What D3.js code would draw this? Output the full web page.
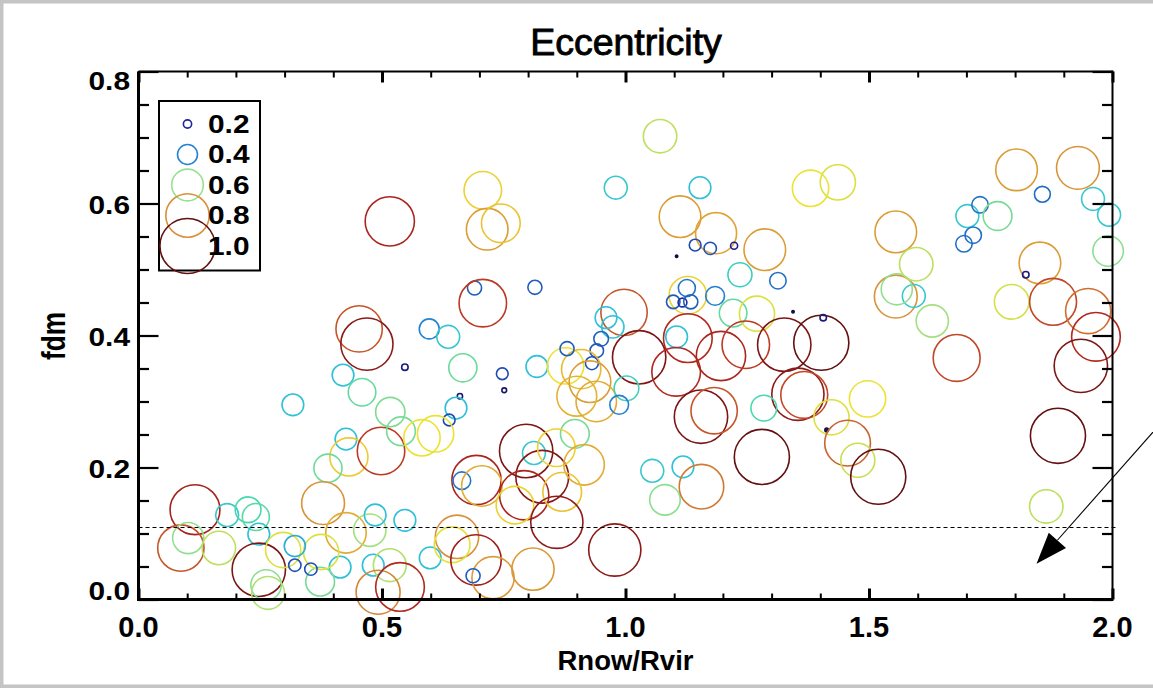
<!DOCTYPE html>
<html><head><meta charset="utf-8">
<script src="https://cdn.jsdelivr.net/npm/d3@7"></script>
<style>body{margin:0;background:#fff}svg{display:block}</style>
</head><body>
<svg id="c" width="1153" height="688"></svg>
<script>
// ---------- data ----------
const xTickValues = [0, 0.5, 1.0, 1.5, 2.0];
const xTickLabels = ["0.0", "0.5", "1.0", "1.5", "2.0"];
const yTickValues = [0, 0.2, 0.4, 0.6, 0.8];
const yTickLabels = ["0.0", "0.2", "0.4", "0.6", "0.8"];
const legendValues = [0.2, 0.4, 0.6, 0.8, 1.0];
const legendLabels = ["0.2", "0.4", "0.6", "0.8", "1.0"];
const titleText = "Eccentricity";
const xTitle = "Rnow/Rvir";
const yTitle = "fdm";
const thresholdLevel = 0.11;
const arrowTail = [2.098, 0.266];
const arrowTip = [1.844, 0.054];

const rnow = [0.116,0.087,0.102,0.165,0.182,0.225,0.241,0.247,0.247,0.262,0.266,0.297,0.317,0.420,0.459,0.517,0.426,0.432,0.389,0.498,
0.379,0.426,0.475,0.486,0.547,0.599,0.482,0.516,0.414,0.373,0.375,0.492,0.537,0.321,0.321,0.354,0.453,0.469,0.516,0.597,
0.636,0.666,0.707,0.716,0.744,0.980,1.071,1.153,1.112,1.186,1.143,1.174,1.223,1.105,1.286,1.235,1.313,0.690,0.707,0.814,
0.997,0.960,0.974,0.950,0.941,0.931,1.128,1.126,1.098,1.117,1.134,1.184,1.221,1.270,1.105,1.028,1.128,1.104,1.196,1.247,
1.326,1.402,1.406,1.344,1.354,1.367,1.423,1.497,1.413,1.456,1.477,1.519,1.680,1.555,1.630,1.592,1.557,1.793,1.851,1.822,
1.878,1.950,1.966,1.935,1.888,1.864,1.380,1.436,1.555,1.597,1.702,1.728,1.764,1.714,1.695,1.803,1.856,1.929,1.960,1.993,
1.991,0.547,0.747,0.751,0.660,0.652,0.638,0.539,0.582,0.610,0.818,0.694,0.664,0.705,0.796,0.812,0.829,0.792,0.773,0.896,
0.858,0.915,0.870,0.859,0.978,1.055,1.118,1.081,1.156,1.280,1.284,1.155,1.182,0.877,0.909,0.927,0.900,0.940,1.002,0.987,
0.880,0.654,0.644,0.693,0.728,0.687,0.810];
const fdm = [0.136,0.078,0.093,0.078,0.128,0.136,0.125,0.099,0.045,0.022,0.010,0.075,0.295,0.340,0.314,0.284,0.243,0.216,0.199,0.225,
0.146,0.101,0.105,0.128,0.120,0.063,0.052,0.052,0.049,0.027,0.072,0.011,0.019,0.081,0.052,0.046,0.410,0.387,0.573,0.410,
0.398,0.351,0.620,0.561,0.570,0.624,0.702,0.624,0.580,0.555,0.537,0.532,0.536,0.520,0.530,0.492,0.483,0.472,0.449,0.473,
0.435,0.427,0.413,0.395,0.377,0.358,0.461,0.472,0.451,0.450,0.451,0.460,0.434,0.433,0.398,0.367,0.396,0.345,0.369,0.386,
0.386,0.389,0.427,0.436,0.311,0.310,0.276,0.304,0.257,0.237,0.211,0.186,0.366,0.459,0.422,0.460,0.470,0.451,0.510,0.492,
0.451,0.437,0.398,0.354,0.248,0.141,0.623,0.632,0.557,0.508,0.581,0.598,0.581,0.552,0.539,0.651,0.614,0.654,0.607,0.583,
0.528,0.352,0.342,0.317,0.308,0.290,0.272,0.255,0.245,0.251,0.353,0.181,0.180,0.172,0.225,0.222,0.186,0.158,0.143,0.251,
0.230,0.204,0.163,0.117,0.075,0.195,0.201,0.151,0.171,0.216,0.290,0.277,0.286,0.354,0.349,0.330,0.308,0.300,0.320,0.295,
0.380,0.095,0.083,0.060,0.033,0.036,0.046];
const ecc = [0.91,0.85,0.59,0.63,0.45,0.50,0.52,0.43,0.97,0.58,0.62,0.66,0.43,0.43,0.53,0.56,0.43,0.71,0.54,0.87,
0.79,0.75,0.61,0.43,0.43,0.43,0.43,0.62,0.43,0.55,0.66,0.81,0.89,0.42,0.27,0.27,0.85,0.95,0.90,0.40,
0.45,0.54,0.70,0.77,0.72,0.45,0.63,0.43,0.77,0.76,0.26,0.27,0.18,0.10,0.77,0.47,0.34,0.30,0.87,0.30,
0.85,0.43,0.44,0.31,0.29,0.28,0.70,0.35,0.29,0.21,0.30,0.38,0.53,0.66,0.43,0.97,0.89,0.89,0.90,0.87,
0.97,1.00,0.17,0.10,0.95,0.86,0.66,0.68,0.12,0.84,0.64,1.00,0.86,0.79,0.61,0.45,0.59,0.65,0.77,0.17,
0.86,0.83,0.89,0.97,1.00,0.63,0.68,0.66,0.77,0.63,0.45,0.34,0.55,0.34,0.34,0.77,0.33,0.79,0.45,0.45,
0.58,0.17,0.26,0.14,0.15,0.43,0.26,0.55,0.68,0.68,0.43,0.90,0.36,0.75,0.97,0.45,0.96,0.90,0.70,0.55,
0.70,0.75,0.72,0.95,0.95,0.45,0.43,0.58,0.82,1.00,0.50,0.97,0.85,0.68,0.73,0.77,0.74,0.75,0.48,0.38,
0.30,0.80,0.67,0.92,0.78,0.30,0.78];

// ---------- setup ----------
const W = 1153, H = 688;
const svg = d3.select("#c");
const FONT = "'Liberation Sans', Arial, Helvetica, sans-serif";

svg.append("rect").attr("width", W).attr("height", H).attr("fill", "#fff");
// outer grey frame (left, top, bottom)
svg.append("rect").attr("x", 0).attr("y", 0).attr("width", W).attr("height", 3.5).attr("fill", "#c4c4c4");
svg.append("rect").attr("x", 0).attr("y", 0).attr("width", 3.5).attr("height", H).attr("fill", "#c4c4c4");
svg.append("rect").attr("x", 0).attr("y", H - 3.5).attr("width", W).attr("height", 3.5).attr("fill", "#c4c4c4");

const x = d3.scaleLinear().domain([0, 2]).range([138.5, 1112.5]);
const y = d3.scaleLinear().domain([0, 0.8]).range([599.5, 71.5]);

const rScale = d3.scaleLinear().domain([0, 1]).range([-1.74, 27.56]);
const radius = e => Math.max(0.9, rScale(e));
const color = d3.scaleLinear()
  .domain([0.10, 0.18, 0.27, 0.34, 0.40, 0.43, 0.50, 0.56, 0.60, 0.64, 0.68, 0.72, 0.77, 0.80, 0.84, 0.88, 0.95, 1.00])
  .range(["#101040", "#1c1c8c", "#1f50b5", "#2070c8", "#2585d2", "#30c0d8", "#48d8b0", "#80dc90", "#98e090",
          "#c8e050", "#ece232", "#eac232", "#dc9c34", "#d8903a", "#c9642e", "#b82a20", "#8c1a18", "#621010"])
  .clamp(true);

// ---------- data points ----------
const pts = rnow.map((v, i) => ({ x: v, y: fdm[i], e: ecc[i] }));
svg.append("g").selectAll("circle").data(pts).join("circle")
  .attr("cx", d => x(d.x)).attr("cy", d => y(d.y))
  .attr("r", d => radius(d.e))
  .attr("fill", d => d.e < 0.13 ? color(d.e) : "none")
  .attr("stroke", d => color(d.e))
  .attr("stroke-width", 1.6);

// ---------- threshold dashed line ----------
svg.append("line")
  .attr("x1", x(0)).attr("x2", x(2.012))
  .attr("y1", Math.round(y(thresholdLevel)) + 0.5).attr("y2", Math.round(y(thresholdLevel)) + 0.5)
  .attr("stroke", "#000").attr("stroke-width", 1).attr("stroke-dasharray", "4,3");

// ---------- axes (IDL style, inward ticks) ----------
const xMinor = d3.range(0, 2.0001, 0.1).filter(v => Math.abs(v * 2 - Math.round(v * 2)) > 1e-6);
const yMinor = d3.range(0, 0.8001, 0.05).filter(v => Math.abs(v * 5 - Math.round(v * 5)) > 1e-6);

function styleAxis(g, w) {
  g.select(".domain").remove();
  g.selectAll(".tick line").attr("stroke", "#000").attr("stroke-width", w);
  g.selectAll(".tick text").remove();
}
// bottom
svg.append("g").attr("transform", `translate(0,${y(0)})`)
  .call(d3.axisBottom(x).tickValues(xTickValues).tickSize(-11).tickFormat(""))
  .call(g => styleAxis(g, 3));
svg.append("g").attr("transform", `translate(0,${y(0)})`)
  .call(d3.axisBottom(x).tickValues(xMinor).tickSize(-6).tickFormat(""))
  .call(g => styleAxis(g, 2));
// top
svg.append("g").attr("transform", `translate(0,${y(0.8)})`)
  .call(d3.axisTop(x).tickValues(xTickValues).tickSize(-11).tickFormat(""))
  .call(g => styleAxis(g, 3));
svg.append("g").attr("transform", `translate(0,${y(0.8)})`)
  .call(d3.axisTop(x).tickValues(xMinor).tickSize(-6).tickFormat(""))
  .call(g => styleAxis(g, 2));
// left
svg.append("g").attr("transform", `translate(${x(0)},0)`)
  .call(d3.axisLeft(y).tickValues(yTickValues).tickSize(-20).tickFormat(""))
  .call(g => styleAxis(g, 2.2));
svg.append("g").attr("transform", `translate(${x(0)},0)`)
  .call(d3.axisLeft(y).tickValues(yMinor).tickSize(-10.5).tickFormat(""))
  .call(g => styleAxis(g, 2.2));
// right
svg.append("g").attr("transform", `translate(${x(2)},0)`)
  .call(d3.axisRight(y).tickValues(yTickValues).tickSize(-20).tickFormat(""))
  .call(g => styleAxis(g, 2.2));
svg.append("g").attr("transform", `translate(${x(2)},0)`)
  .call(d3.axisRight(y).tickValues(yMinor).tickSize(-10.5).tickFormat(""))
  .call(g => styleAxis(g, 2.2));

// frame lines
svg.append("line").attr("x1", x(0)).attr("x2", x(2)).attr("y1", y(0)).attr("y2", y(0)).attr("stroke", "#000").attr("stroke-width", 3);
svg.append("line").attr("x1", x(0)).attr("x2", x(0)).attr("y1", y(0) + 1.5).attr("y2", y(0.8)).attr("stroke", "#000").attr("stroke-width", 3);
svg.append("line").attr("x1", x(0)).attr("x2", x(2)).attr("y1", y(0.8)).attr("y2", y(0.8)).attr("stroke", "#000").attr("stroke-width", 2);
svg.append("line").attr("x1", x(2)).attr("x2", x(2)).attr("y1", y(0) + 1.5).attr("y2", y(0.8) - 1).attr("stroke", "#000").attr("stroke-width", 2);

// tick labels
svg.append("g").selectAll("text").data(xTickValues).join("text")
  .attr("x", d => x(d)).attr("y", 637)
  .attr("text-anchor", "middle")
  .attr("font-family", FONT).attr("font-weight", "bold").attr("font-size", 29)
  .text((d, i) => xTickLabels[i]);

svg.append("g").selectAll("text").data(yTickValues).join("text")
  .attr("x", 130).attr("y", d => Math.min(Math.max(y(d) + 10.5, y(0.8) + 18.5), y(0) + 0.5))
  .attr("text-anchor", "end")
  .attr("font-family", FONT).attr("font-weight", "bold").attr("font-size", 25.5)
  .attr("textLength", 41.5).attr("lengthAdjust", "spacingAndGlyphs")
  .text((d, i) => yTickLabels[i]);

// titles
svg.append("text").attr("x", 626).attr("y", 55).attr("text-anchor", "middle")
  .attr("font-family", FONT).attr("font-size", 37.5)
  .attr("stroke", "#000").attr("stroke-width", 0.9).text(titleText);
svg.append("text").attr("x", (x(0) + x(2)) / 2).attr("y", 670).attr("text-anchor", "middle")
  .attr("font-family", FONT).attr("font-weight", "bold").attr("font-size", 27.5).text(xTitle);
svg.append("text").attr("transform", "translate(65,336) rotate(-90)").attr("text-anchor", "middle")
  .attr("font-family", FONT).attr("font-weight", "bold").attr("font-size", 33)
  .attr("textLength", 48).attr("lengthAdjust", "spacingAndGlyphs").text(yTitle);

// ---------- legend ----------
const lg = svg.append("g");
lg.append("rect").attr("x", 159).attr("y", 101).attr("width", 101).attr("height", 169.5)
  .attr("fill", "none").attr("stroke", "#000").attr("stroke-width", 2);
const legY = d3.scalePoint().domain(legendLabels).range([124, 246]);
lg.selectAll("circle").data(legendValues).join("circle")
  .attr("cx", 187.5).attr("cy", (d, i) => legY(legendLabels[i]))
  .attr("r", d => radius(d)).attr("fill", "none")
  .attr("stroke", d => color(d)).attr("stroke-width", 1.6);
lg.selectAll("text").data(legendLabels).join("text")
  .attr("x", 208).attr("y", d => legY(d) + 8.5)
  .attr("font-family", FONT).attr("font-weight", "bold").attr("font-size", 25.5)
  .attr("textLength", 41.5).attr("lengthAdjust", "spacingAndGlyphs")
  .text(d => d);

// ---------- arrow annotation ----------
const tip = [x(arrowTip[0]), y(arrowTip[1])];
const tail = [x(arrowTail[0]), y(arrowTail[1])];
const dx = tail[0] - tip[0], dy = tail[1] - tip[1];
const L = Math.hypot(dx, dy);
const u = [dx / L, dy / L], n = [-u[1], u[0]];
const headLen = 31.5, headHalf = 11.5;
const base = [tip[0] + u[0] * headLen, tip[1] + u[1] * headLen];
svg.append("line").attr("x1", tail[0]).attr("y1", tail[1]).attr("x2", base[0]).attr("y2", base[1])
  .attr("stroke", "#000").attr("stroke-width", 1.1);
svg.append("path")
  .attr("d", d3.line()([tip, [base[0] + n[0] * headHalf, base[1] + n[1] * headHalf], [base[0] - n[0] * headHalf, base[1] - n[1] * headHalf]]) + "Z")
  .attr("fill", "#000");
</script>
</body></html>
